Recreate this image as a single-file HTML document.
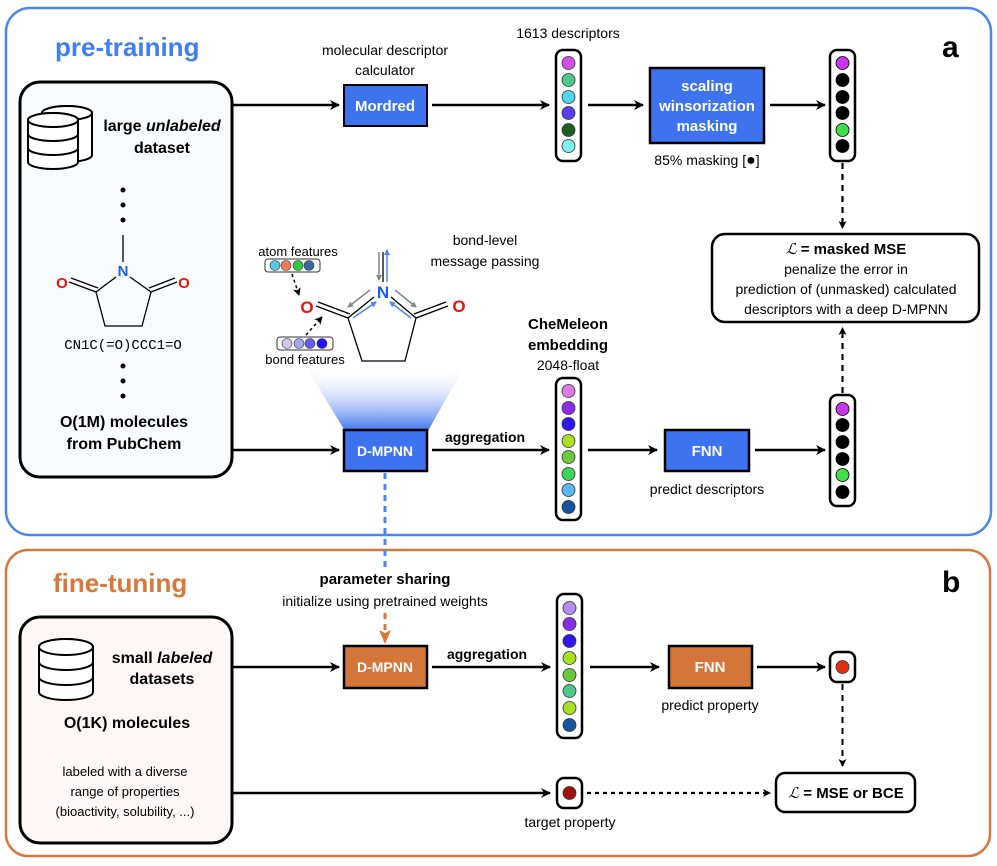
<!DOCTYPE html>
<html><head><meta charset="utf-8"><style>
html,body{margin:0;padding:0;background:#fff;}
svg{display:block;font-family:"Liberation Sans",sans-serif;}
.b{font-weight:bold}
</style></head><body>
<svg width="997" height="866" viewBox="0 0 997 866" xmlns="http://www.w3.org/2000/svg">
<defs>
<marker id="ah" markerWidth="10" markerHeight="10" refX="9" refY="5" orient="auto" markerUnits="userSpaceOnUse"><path d="M0,0 L10,5 L0,10 L3,5 z" fill="#000"/></marker>
<marker id="ahs" markerWidth="8" markerHeight="8" refX="7" refY="4" orient="auto" markerUnits="userSpaceOnUse"><path d="M0,0 L8,4 L0,8 L2,4 z" fill="#000"/></marker>
<marker id="aho" markerWidth="12" markerHeight="14" refX="6" refY="13" orient="auto" markerUnits="userSpaceOnUse"><path d="M0,0 L6,14 L12,0 L6,4 z" fill="#d8783c" transform="rotate(0)"/></marker>
<marker id="ag" markerWidth="6" markerHeight="6" refX="5" refY="3" orient="auto" markerUnits="userSpaceOnUse"><path d="M0,0 L6,3 L0,6 z" fill="#7e8a88"/></marker>
<marker id="ab" markerWidth="6" markerHeight="6" refX="5" refY="3" orient="auto" markerUnits="userSpaceOnUse"><path d="M0,0 L6,3 L0,6 z" fill="#4a86f0"/></marker>
<linearGradient id="fan" x1="0" y1="0" x2="0" y2="1"><stop offset="0" stop-color="#fff" stop-opacity="0"/><stop offset="1" stop-color="#3d73ee"/></linearGradient>
</defs>

<!-- panels -->
<rect x="6" y="8" width="985" height="527" rx="24" fill="#fff" stroke="#4a86f0" stroke-width="2.5"/>
<rect x="6" y="550" width="984" height="306" rx="22" fill="#fff" stroke="#d8783c" stroke-width="2.5"/>

<text x="55" y="56" font-size="26" class="b" fill="#3f7ef5">pre-training</text>
<text x="942" y="57" font-size="30" class="b">a</text>
<text x="53" y="592" font-size="26" class="b" fill="#d8783c">fine-tuning</text>
<text x="942" y="592" font-size="30" class="b">b</text>

<!-- left box top -->
<rect x="20" y="82" width="212" height="395" rx="20" fill="#f7fbfd" stroke="#000" stroke-width="3"/>
<g fill="#fff" stroke="#000" stroke-width="2">
<path d="M42,113 a25,7 0 0 1 50,0 v42 a25,7 0 0 1 -50,0 z"/>
<ellipse cx="67" cy="113" rx="25" ry="7"/>
<path d="M28,120 a25,7 0 0 1 50,0 v42 a25,7 0 0 1 -50,0 z"/>
<ellipse cx="53" cy="120" rx="25" ry="7"/>
<path d="M28,134 a25,7 0 0 0 50,0 M28,148 a25,7 0 0 0 50,0" fill="none"/>
</g>
<text x="162" y="131" font-size="16" class="b" text-anchor="middle">large <tspan font-style="italic">unlabeled</tspan></text>
<text x="162" y="153" font-size="16" class="b" text-anchor="middle">dataset</text>
<g fill="#000"><circle cx="123" cy="190" r="2.5"/><circle cx="123" cy="205" r="2.5"/><circle cx="123" cy="220" r="2.5"/>
<circle cx="123" cy="366" r="2.5"/><circle cx="123" cy="381" r="2.5"/><circle cx="123" cy="396" r="2.5"/></g>
<g stroke="#000" stroke-width="1.3" fill="none">
<line x1="123" y1="235" x2="123" y2="262"/>
<path d="M116,277 L96,292 L105,326 L142,326 L151,292 L130,277"/>
<line x1="96" y1="292" x2="69" y2="282"/><line x1="98" y1="288" x2="71" y2="278"/>
<line x1="151" y1="292" x2="177" y2="282"/><line x1="149" y1="288" x2="175" y2="278"/>
</g>
<text x="123" y="276" font-size="15" class="b" fill="#1a5ff0" text-anchor="middle">N</text>
<text x="62" y="288" font-size="15" class="b" fill="#f01010" text-anchor="middle">O</text>
<text x="184" y="288" font-size="15" class="b" fill="#f01010" text-anchor="middle">O</text>
<text x="123" y="349" font-size="14" font-family="Liberation Mono,monospace" text-anchor="middle">CN1C(=O)CCC1=O</text>
<text x="124" y="427" font-size="16" class="b" text-anchor="middle">O(1M) molecules</text>
<text x="124" y="449" font-size="16" class="b" text-anchor="middle">from PubChem</text>

<!-- top row -->
<text x="385" y="55" font-size="14" text-anchor="middle">molecular descriptor</text>
<text x="385" y="75" font-size="14" text-anchor="middle">calculator</text>
<line x1="232" y1="105" x2="339" y2="105" stroke="#000" stroke-width="2.5" marker-end="url(#ah)"/>
<rect x="344" y="85" width="83" height="41" fill="#3d73ee" stroke="#000" stroke-width="2"/>
<text x="385" y="111" font-size="15" class="b" fill="#fff" text-anchor="middle">Mordred</text>
<line x1="432" y1="105" x2="549" y2="105" stroke="#000" stroke-width="2.5" marker-end="url(#ah)"/>
<text x="568" y="38" font-size="14" text-anchor="middle">1613 descriptors</text>
<rect x="556" y="50" width="25" height="111" rx="7" fill="#fff" stroke="#000" stroke-width="2.5"/>
<g stroke="#333" stroke-width="0.8">
<circle cx="568.5" cy="63" r="6.5" fill="#d44fe8"/><circle cx="568.5" cy="80" r="6.5" fill="#4cc98a"/><circle cx="568.5" cy="97" r="6.5" fill="#4dd6f0"/><circle cx="568.5" cy="113" r="6.5" fill="#5a3ef0"/><circle cx="568.5" cy="130" r="6.5" fill="#1e5e20"/><circle cx="568.5" cy="146" r="6.5" fill="#7ff0f0"/>
</g>
<line x1="588" y1="105" x2="643" y2="105" stroke="#000" stroke-width="2.5" marker-end="url(#ah)"/>
<rect x="650" y="68" width="114" height="75" fill="#3d73ee" stroke="#000" stroke-width="2.5"/>
<text x="707" y="91" font-size="15" class="b" fill="#fff" text-anchor="middle">scaling</text>
<text x="707" y="111" font-size="15" class="b" fill="#fff" text-anchor="middle">winsorization</text>
<text x="707" y="131" font-size="15" class="b" fill="#fff" text-anchor="middle">masking</text>
<text x="707" y="165" font-size="14" text-anchor="middle">85% masking [<tspan font-size="16">●</tspan>]</text>
<line x1="770" y1="105" x2="825" y2="105" stroke="#000" stroke-width="2.5" marker-end="url(#ah)"/>
<rect x="830" y="50" width="25" height="111" rx="7" fill="#fff" stroke="#000" stroke-width="2.5"/>
<g stroke="#000" stroke-width="0.8">
<circle cx="842.5" cy="63" r="6.5" fill="#c936ea"/><circle cx="842.5" cy="80" r="6.5" fill="#000"/><circle cx="842.5" cy="97" r="6.5" fill="#000"/><circle cx="842.5" cy="113" r="6.5" fill="#000"/><circle cx="842.5" cy="130" r="6.5" fill="#3de04a"/><circle cx="842.5" cy="146" r="6.5" fill="#000"/>
</g>
<line x1="842.5" y1="163" x2="842.5" y2="228" stroke="#000" stroke-width="2.2" stroke-dasharray="6,5" marker-end="url(#ahs)"/>
<rect x="712" y="234" width="267" height="88" rx="13" fill="#fff" stroke="#000" stroke-width="2.5"/>
<text x="846" y="254" font-size="15" class="b" text-anchor="middle"><tspan font-style="italic" font-family="Liberation Serif,serif" font-weight="normal">ℒ</tspan> = masked MSE</text>
<text x="846" y="274" font-size="14" text-anchor="middle">penalize the error in</text>
<text x="846" y="294" font-size="14" text-anchor="middle">prediction of (unmasked) calculated</text>
<text x="846" y="314" font-size="14" text-anchor="middle">descriptors with a deep D-MPNN</text>

<!-- molecule w/ message passing -->
<polygon points="305,365 465,365 428,431 345,431" fill="url(#fan)"/>
<text x="298" y="256" font-size="13" text-anchor="middle">atom features</text>
<rect x="265" y="259" width="55" height="13" rx="3" fill="#fff" stroke="#333" stroke-width="1"/>
<circle cx="275" cy="265.5" r="5" fill="#5bc8e8" stroke="#333" stroke-width=".6"/><circle cx="286" cy="265.5" r="5" fill="#f07a5a" stroke="#333" stroke-width=".6"/><circle cx="298" cy="265.5" r="5" fill="#30c840" stroke="#333" stroke-width=".6"/><circle cx="309" cy="265.5" r="5" fill="#3a6aa0" stroke="#333" stroke-width=".6"/>
<line x1="292" y1="274" x2="299" y2="295" stroke="#000" stroke-width="1.5" stroke-dasharray="3,3" marker-end="url(#ahs)"/>
<rect x="277" y="337" width="56" height="13" rx="3" fill="#fff" stroke="#333" stroke-width="1"/>
<circle cx="287" cy="343.5" r="5" fill="#d6c6f4" stroke="#333" stroke-width=".6"/><circle cx="299" cy="343.5" r="5" fill="#a6a6f0" stroke="#333" stroke-width=".6"/><circle cx="310" cy="343.5" r="5" fill="#6a5af0" stroke="#333" stroke-width=".6"/><circle cx="322" cy="343.5" r="5" fill="#2a10f0" stroke="#333" stroke-width=".6"/>
<line x1="306" y1="335" x2="322" y2="317" stroke="#000" stroke-width="1.5" stroke-dasharray="3,3" marker-end="url(#ahs)"/>
<text x="305" y="364" font-size="13" text-anchor="middle">bond features</text>
<text x="485" y="245" font-size="14" text-anchor="middle">bond-level</text>
<text x="485" y="266" font-size="14" text-anchor="middle">message passing</text>
<g stroke="#000" stroke-width="1.3" fill="none">
<path d="M374,297 L348,318 L362,361 L405,361 L416,318 L391,297"/>
<line x1="348" y1="318" x2="316" y2="306"/><line x1="350" y1="314" x2="318" y2="302"/>
<line x1="416" y1="318" x2="448" y2="306"/><line x1="414" y1="314" x2="446" y2="302"/>
<line x1="383" y1="282" x2="383" y2="252"/>
</g>
<line x1="379" y1="252" x2="379" y2="280" stroke="#7e8a88" stroke-width="1.5" marker-end="url(#ag)"/>
<line x1="387" y1="282" x2="387" y2="250" stroke="#4a86f0" stroke-width="1.5" marker-end="url(#ab)"/>
<line x1="370" y1="290" x2="348" y2="307" stroke="#7e8a88" stroke-width="1.5" marker-end="url(#ag)"/>
<line x1="353" y1="318" x2="376" y2="302" stroke="#4a86f0" stroke-width="1.5" marker-end="url(#ab)"/>
<line x1="395" y1="290" x2="416" y2="307" stroke="#7e8a88" stroke-width="1.5" marker-end="url(#ag)"/>
<line x1="411" y1="318" x2="390" y2="302" stroke="#4a86f0" stroke-width="1.5" marker-end="url(#ab)"/>
<text x="383" y="298" font-size="17" class="b" fill="#1a5ff0" text-anchor="middle">N</text>
<text x="307" y="313" font-size="17" class="b" fill="#f01010" text-anchor="middle">O</text>
<text x="459" y="312" font-size="17" class="b" fill="#f01010" text-anchor="middle">O</text>

<!-- second row top -->
<line x1="232" y1="450" x2="339" y2="450" stroke="#000" stroke-width="2.5" marker-end="url(#ah)"/>
<rect x="344" y="430" width="83" height="41" fill="#3d73ee" stroke="#000" stroke-width="2.5"/>
<text x="385" y="456" font-size="14" class="b" fill="#fff" text-anchor="middle">D-MPNN</text>
<text x="485" y="442" font-size="14" class="b" text-anchor="middle">aggregation</text>
<line x1="432" y1="450" x2="549" y2="450" stroke="#000" stroke-width="2.5" marker-end="url(#ah)"/>
<text x="568" y="329" font-size="15" class="b" text-anchor="middle">CheMeleon</text>
<text x="568" y="350" font-size="15" class="b" text-anchor="middle">embedding</text>
<text x="568" y="370" font-size="14" text-anchor="middle">2048-float</text>
<rect x="556" y="378" width="25" height="142" rx="7" fill="#fff" stroke="#000" stroke-width="2.5"/>
<g stroke="#333" stroke-width="0.8">
<circle cx="568.5" cy="391" r="6.5" fill="#e07ae8"/><circle cx="568.5" cy="408" r="6.5" fill="#8a2be8"/><circle cx="568.5" cy="424" r="6.5" fill="#3015f0"/><circle cx="568.5" cy="441" r="6.5" fill="#a8e020"/><circle cx="568.5" cy="457" r="6.5" fill="#6ac93a"/><circle cx="568.5" cy="474" r="6.5" fill="#3dd45a"/><circle cx="568.5" cy="490" r="6.5" fill="#5ab8f0"/><circle cx="568.5" cy="507" r="6.5" fill="#1555a0"/>
</g>
<line x1="588" y1="450" x2="657" y2="450" stroke="#000" stroke-width="2.5" marker-end="url(#ah)"/>
<rect x="665" y="430" width="84" height="41" fill="#3d73ee" stroke="#000" stroke-width="2.5"/>
<text x="707" y="456" font-size="15" class="b" fill="#fff" text-anchor="middle">FNN</text>
<text x="707" y="494" font-size="14" text-anchor="middle">predict descriptors</text>
<line x1="755" y1="450" x2="825" y2="450" stroke="#000" stroke-width="2.5" marker-end="url(#ah)"/>
<rect x="830" y="395" width="25" height="111" rx="7" fill="#fff" stroke="#000" stroke-width="2.5"/>
<g stroke="#000" stroke-width="0.8">
<circle cx="842.5" cy="409" r="6.5" fill="#c936ea"/><circle cx="842.5" cy="425" r="6.5" fill="#000"/><circle cx="842.5" cy="442" r="6.5" fill="#000"/><circle cx="842.5" cy="459" r="6.5" fill="#000"/><circle cx="842.5" cy="475" r="6.5" fill="#3de04a"/><circle cx="842.5" cy="492" r="6.5" fill="#000"/>
</g>
<line x1="842.5" y1="393" x2="842.5" y2="328" stroke="#000" stroke-width="2.2" stroke-dasharray="6,5" marker-end="url(#ahs)"/>

<!-- parameter sharing -->
<line x1="385" y1="473" x2="385" y2="572" stroke="#4a86f0" stroke-width="3" stroke-dasharray="6,5"/>
<text x="385" y="584" font-size="15" class="b" text-anchor="middle">parameter sharing</text>
<text x="385" y="606" font-size="14" text-anchor="middle">initialize using pretrained weights</text>
<line x1="385" y1="613" x2="385" y2="640" stroke="#d8783c" stroke-width="3" stroke-dasharray="6,5"/>
<path d="M379,630 L385,644 L391,630 L385,633 z" fill="#d8783c"/>

<!-- bottom -->
<rect x="20" y="617" width="212" height="226" rx="20" fill="#fdf8f5" stroke="#000" stroke-width="3"/>
<g fill="#fff" stroke="#000" stroke-width="2">
<path d="M39,647 a27,8 0 0 1 54,0 v45 a27,8 0 0 1 -54,0 z"/>
<ellipse cx="66" cy="647" rx="27" ry="8"/>
<path d="M39,662 a27,8 0 0 0 54,0 M39,677 a27,8 0 0 0 54,0" fill="none"/>
</g>
<text x="162" y="663" font-size="16" class="b" text-anchor="middle">small <tspan font-style="italic">labeled</tspan></text>
<text x="162" y="684" font-size="16" class="b" text-anchor="middle">datasets</text>
<text x="127" y="728" font-size="16" class="b" text-anchor="middle">O(1K) molecules</text>
<text x="125" y="776" font-size="13" text-anchor="middle">labeled with a diverse</text>
<text x="125" y="796" font-size="13" text-anchor="middle">range of properties</text>
<text x="125" y="816" font-size="13" text-anchor="middle">(bioactivity, solubility, ...)</text>

<line x1="232" y1="667" x2="339" y2="667" stroke="#000" stroke-width="2.5" marker-end="url(#ah)"/>
<rect x="344" y="646" width="83" height="42" fill="#d4763a" stroke="#000" stroke-width="2.5"/>
<text x="385" y="672" font-size="14" class="b" fill="#fff" text-anchor="middle">D-MPNN</text>
<text x="487" y="659" font-size="14" class="b" text-anchor="middle">aggregation</text>
<line x1="432" y1="667" x2="550" y2="667" stroke="#000" stroke-width="2.5" marker-end="url(#ah)"/>
<rect x="557" y="594" width="25" height="144" rx="7" fill="#fff" stroke="#000" stroke-width="2.5"/>
<g stroke="#333" stroke-width="0.8">
<circle cx="569.5" cy="608" r="6.5" fill="#b48ef0"/><circle cx="569.5" cy="624" r="6.5" fill="#8a2be8"/><circle cx="569.5" cy="641" r="6.5" fill="#3015f0"/><circle cx="569.5" cy="658" r="6.5" fill="#a8e020"/><circle cx="569.5" cy="675" r="6.5" fill="#6ac93a"/><circle cx="569.5" cy="691" r="6.5" fill="#4cc98a"/><circle cx="569.5" cy="708" r="6.5" fill="#a8e020"/><circle cx="569.5" cy="725" r="6.5" fill="#1555a0"/>
</g>
<line x1="590" y1="667" x2="659" y2="667" stroke="#000" stroke-width="2.5" marker-end="url(#ah)"/>
<rect x="669" y="646" width="83" height="42" fill="#d4763a" stroke="#000" stroke-width="2.5"/>
<text x="710" y="672" font-size="15" class="b" fill="#fff" text-anchor="middle">FNN</text>
<text x="710" y="710" font-size="14" text-anchor="middle">predict property</text>
<line x1="757" y1="667" x2="825" y2="667" stroke="#000" stroke-width="2.5" marker-end="url(#ah)"/>
<rect x="830" y="652" width="25" height="30" rx="7" fill="#fff" stroke="#000" stroke-width="2.5"/>
<circle cx="842.5" cy="667" r="6.5" fill="#e03010" stroke="#333" stroke-width=".8"/>
<line x1="842.5" y1="684" x2="842.5" y2="766" stroke="#000" stroke-width="2" stroke-dasharray="6,5" marker-end="url(#ahs)"/>
<rect x="776" y="773" width="139" height="39" rx="9" fill="#fff" stroke="#000" stroke-width="2.5"/>
<text x="846" y="798" font-size="15" class="b" text-anchor="middle"><tspan font-style="italic" font-family="Liberation Serif,serif" font-weight="normal">ℒ</tspan> = MSE or BCE</text>

<line x1="232" y1="793" x2="550" y2="793" stroke="#000" stroke-width="2.5" marker-end="url(#ah)"/>
<rect x="557" y="778" width="25" height="30" rx="7" fill="#fff" stroke="#000" stroke-width="2.5"/>
<circle cx="569.5" cy="793" r="6.5" fill="#a01010" stroke="#333" stroke-width=".8"/>
<text x="570" y="827" font-size="14" text-anchor="middle">target property</text>
<line x1="587" y1="793" x2="770" y2="793" stroke="#000" stroke-width="2.2" stroke-dasharray="4,4" marker-end="url(#ahs)"/>
</svg>
</body></html>
